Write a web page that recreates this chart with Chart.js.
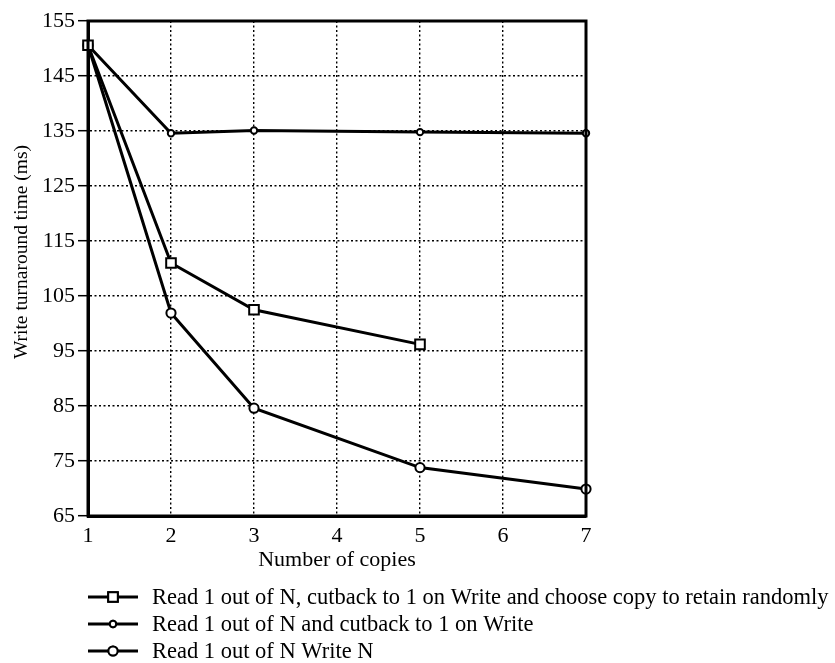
<!DOCTYPE html>
<html>
<head>
<meta charset="utf-8">
<script src="https://cdn.jsdelivr.net/npm/chart.js@4.4.1/dist/chart.umd.min.js"></script>
<style>
  html, body { margin: 0; padding: 0; background: #fff; }
  #wrap { width: 835px; height: 663px; position: relative; }
</style>
</head>
<body>
<div id="wrap"><canvas id="chart" width="835" height="663"></canvas></div>
<script>
// Write turnaround time vs number of copies, three replica policies.
const xTicks = [1, 2, 3, 4, 5, 6, 7];
const yTicks = [65, 75, 85, 95, 105, 115, 125, 135, 145, 155];

const randomCopies = [1, 2, 3, 5];
const randomTimes = [150.6, 111.0, 102.5, 96.2];

const cutbackCopies = [1, 2, 3, 5, 7];
const cutbackTimes = [150.6, 134.6, 135.1, 134.8, 134.6];

const writeNCopies = [1, 2, 3, 5, 7];
const writeNTimes = [150.6, 101.9, 84.6, 73.8, 69.9];

const seriesLabels = [
  'Read 1 out of N, cutback to 1 on Write and choose copy to retain randomly',
  'Read 1 out of N and cutback to 1 on Write',
  'Read 1 out of N Write N',
];

const SERIF = '"Liberation Serif", "Times New Roman", serif';
const pts = (xs, ys) => xs.map((x, i) => ({ x, y: ys[i] }));

const lineStyle = (label, data, style, radius) => ({
  label,
  data,
  borderColor: '#000',
  borderWidth: 3,
  tension: 0,
  pointStyle: style,
  pointRadius: radius,
  pointBorderWidth: 2,
  pointBackgroundColor: '#fff',
  pointBorderColor: '#000',
  clip: false,
});

// closes the frame on top/right and draws the axis titles + legend rows
const framePlugin = {
  id: 'frame',
  afterDraw: (chart) => {
    const { ctx, chartArea: a } = chart;
    ctx.save();
    ctx.setLineDash([]);
    ctx.strokeStyle = '#000';
    ctx.lineWidth = 3;
    ctx.strokeRect(a.left, a.top, a.right - a.left, a.bottom - a.top);

    ctx.fillStyle = '#000';
    ctx.font = `22px ${SERIF}`;
    ctx.textAlign = 'center';
    ctx.textBaseline = 'middle';
    ctx.fillText('Number of copies', (a.left + a.right) / 2, 560);

    ctx.save();
    ctx.font = `19.5px ${SERIF}`;
    ctx.translate(22, 252);
    ctx.rotate(-Math.PI / 2);
    ctx.fillText('Write turnaround time (ms)', 0, 0);
    ctx.restore();

    ctx.font = `22.5px ${SERIF}`;
    const rows = [597, 624, 651];
    chart.data.datasets.forEach((ds, i) => {
      const y = rows[i];
      ctx.beginPath();
      ctx.moveTo(88, y);
      ctx.lineTo(138, y);
      ctx.lineWidth = 3;
      ctx.strokeStyle = '#000';
      ctx.stroke();
      ctx.lineWidth = ds.pointBorderWidth;
      ctx.fillStyle = '#fff';
      Chart.helpers.drawPoint(ctx, { pointStyle: ds.pointStyle, radius: ds.pointRadius, borderWidth: ds.pointBorderWidth }, 113, y);
      ctx.fill();
      ctx.stroke();
      ctx.fillStyle = '#000';
      ctx.textAlign = 'left';
      ctx.fillText(ds.label, 152, y + 1);
    });
    ctx.restore();
  },
};

const hideEdge = (lo, hi) => (c) => (c.tick.value === lo || c.tick.value === hi ? 'rgba(0,0,0,0)' : '#000');

new Chart(document.getElementById('chart'), {
  type: 'line',
  data: {
    datasets: [
      lineStyle(seriesLabels[0], pts(randomCopies, randomTimes), 'rect', 6.8),
      lineStyle(seriesLabels[1], pts(cutbackCopies, cutbackTimes), 'circle', 3.2),
      lineStyle(seriesLabels[2], pts(writeNCopies, writeNTimes), 'circle', 4.6),
    ],
  },
  plugins: [framePlugin],
  options: {
    responsive: false,
    animation: false,
    layout: { padding: { top: 21, right: 249, left: 0, bottom: 0 } },
    plugins: { legend: { display: false }, tooltip: { enabled: false } },
    scales: {
      x: {
        type: 'linear',
        min: 1, max: 7,
        afterBuildTicks: (s) => { s.ticks = xTicks.map((v) => ({ value: v })); },
        afterFit: (s) => { s.height = 147; },
        grid: { color: hideEdge(1, 7), lineWidth: 1.4, drawTicks: false },
        border: { display: true, color: '#000', width: 3, dash: [2, 2.5] },
        ticks: { color: '#000', font: { family: SERIF, size: 22 }, padding: 7, maxRotation: 0 },
      },
      y: {
        min: 65, max: 155,
        afterBuildTicks: (s) => { s.ticks = yTicks.map((v) => ({ value: v })); },
        afterFit: (s) => { s.width = 88; },
        grid: {
          color: hideEdge(65, 155),
          lineWidth: 1.4,
          drawTicks: true,
          tickLength: 10,
          tickColor: '#000',
          tickWidth: 1.5,
          tickBorderDash: [],
        },
        border: { display: true, color: '#000', width: 3, dash: [2, 2.5] },
        ticks: { color: '#000', font: { family: SERIF, size: 22 }, padding: 3 },
      },
    },
  },
});
</script>
</body>
</html>
